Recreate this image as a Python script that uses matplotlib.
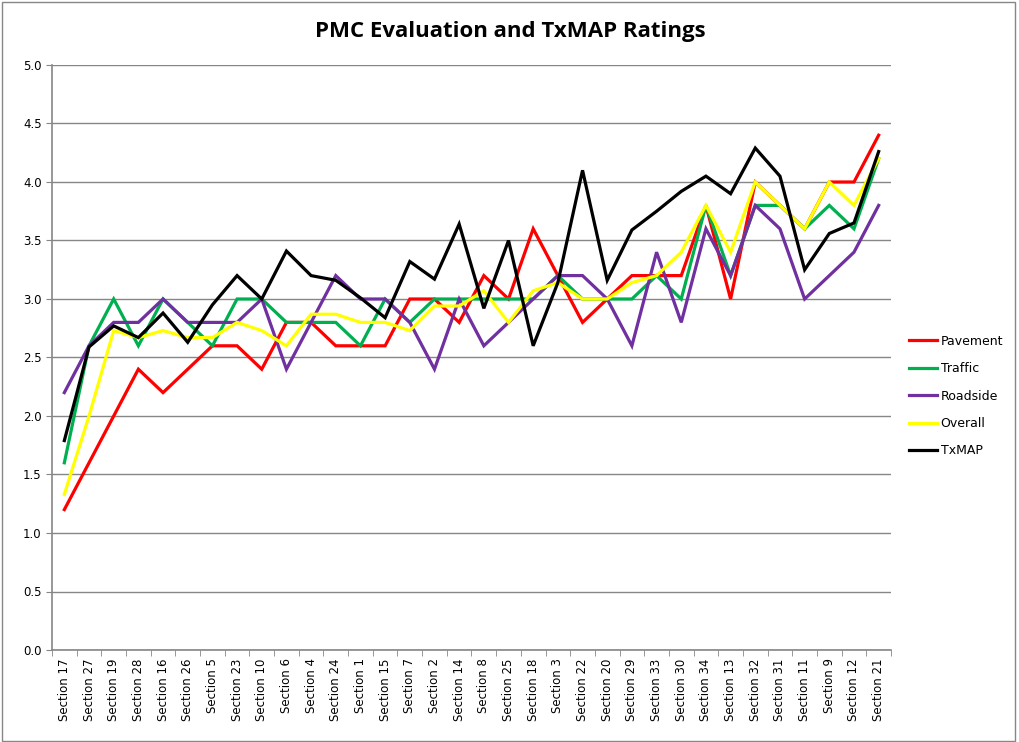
import matplotlib
matplotlib.use("Agg")
import matplotlib.pyplot as plt
from matplotlib.patches import Rectangle

sections = [17, 27, 19, 28, 16, 26, 5, 23, 10, 6, 4, 24, 1, 15, 7, 2, 14, 8, 25, 18,
            3, 22, 20, 29, 33, 30, 34, 13, 32, 31, 11, 9, 12, 21]
labels = ["Section %d" % s for s in sections]

pavement = [1.2, 1.6, 2.0, 2.4, 2.2, 2.4, 2.6, 2.6, 2.4, 2.8, 2.8, 2.6, 2.6, 2.6, 3.0, 3.0, 2.8,
            3.2, 3.0, 3.6, 3.2, 2.8, 3.0, 3.2, 3.2, 3.2, 3.8, 3.0, 4.0, 3.8, 3.6, 4.0, 4.0, 4.4]
traffic = [1.6, 2.6, 3.0, 2.6, 3.0, 2.8, 2.6, 3.0, 3.0, 2.8, 2.8, 2.8, 2.6, 3.0, 2.8, 3.0, 3.0,
           3.0, 3.0, 3.0, 3.2, 3.0, 3.0, 3.0, 3.2, 3.0, 3.8, 3.2, 3.8, 3.8, 3.6, 3.8, 3.6, 4.2]
roadside = [2.2, 2.6, 2.8, 2.8, 3.0, 2.8, 2.8, 2.8, 3.0, 2.4, 2.8, 3.2, 3.0, 3.0, 2.8, 2.4, 3.0,
            2.6, 2.8, 3.0, 3.2, 3.2, 3.0, 2.6, 3.4, 2.8, 3.6, 3.2, 3.8, 3.6, 3.0, 3.2, 3.4, 3.8]
overall = [1.33, 2.0, 2.73, 2.67, 2.73, 2.67, 2.67, 2.8, 2.73, 2.6, 2.87, 2.87, 2.8, 2.8, 2.73,
           2.94, 2.94, 3.07, 2.8, 3.07, 3.14, 3.0, 3.0, 3.14, 3.2, 3.4, 3.8, 3.4, 4.0, 3.8, 3.6,
           4.0, 3.8, 4.2]
txmap = [1.79, 2.59, 2.77, 2.67, 2.88, 2.63, 2.95, 3.2, 3.0, 3.41, 3.2, 3.16, 3.01, 2.84, 3.32,
         3.17, 3.64, 2.92, 3.5, 2.6, 3.14, 4.1, 3.16, 3.59, 3.75, 3.92, 4.05, 3.9, 4.29, 4.05,
         3.25, 3.56, 3.65, 4.26]

series = [
    ("Pavement", pavement, "#ff0000"),
    ("Traffic", traffic, "#00b050"),
    ("Roadside", roadside, "#7030a0"),
    ("Overall", overall, "#ffff00"),
    ("TxMAP", txmap, "#000000"),
]

fig = plt.figure(figsize=(10.2, 7.42), dpi=100)
ax = fig.add_axes([52 / 1020, 1 - 650 / 742, (891 - 52) / 1020, (650 - 65) / 742])

x = list(range(len(labels)))
for name, vals, col in series:
    ax.plot(x, vals, color=col, lw=2.3, label=name, solid_joinstyle="miter")

ax.set_xlim(-0.5, len(labels) - 0.5)
ax.set_ylim(0, 5)
ax.set_yticks([i * 0.5 for i in range(11)])
ax.set_yticklabels(["%.1f" % (i * 0.5) for i in range(11)], fontsize=8.5)
ax.set_xticks(x)
ax.set_xticklabels(labels, rotation=90, fontsize=8.5)
ax.tick_params(axis="x", length=0, pad=6)
ax.set_xticks([i - 0.5 for i in range(len(labels) + 1)], minor=True)
ax.tick_params(axis="x", which="minor", length=4, color="#868686", direction="out")
ax.tick_params(axis="y", length=4, color="#868686", direction="out")
ax.grid(axis="y", color="#868686", lw=1)
ax.set_axisbelow(True)
for s in ["top", "right"]:
    ax.spines[s].set_visible(False)
for s in ["left", "bottom"]:
    ax.spines[s].set_color("#868686")
    ax.spines[s].set_linewidth(1.2)

fig.text(0.5, 1 - 32 / 742, "PMC Evaluation and TxMAP Ratings", ha="center", va="center",
         fontsize=16, fontweight="bold", family="Open Sans")

# legend sits to the right of the plot, a bit below the middle
ax.legend(loc="center left", bbox_to_anchor=(1.016, 0.434), frameon=False, fontsize=9,
          borderaxespad=0, handlelength=2.2, handletextpad=0.3, labelspacing=1.15)

fig.patches.append(Rectangle((0.002, 0.002), 0.993, 0.995, transform=fig.transFigure,
                             fill=False, edgecolor="#868686", lw=1))

fig.savefig("out.png", dpi=100)
